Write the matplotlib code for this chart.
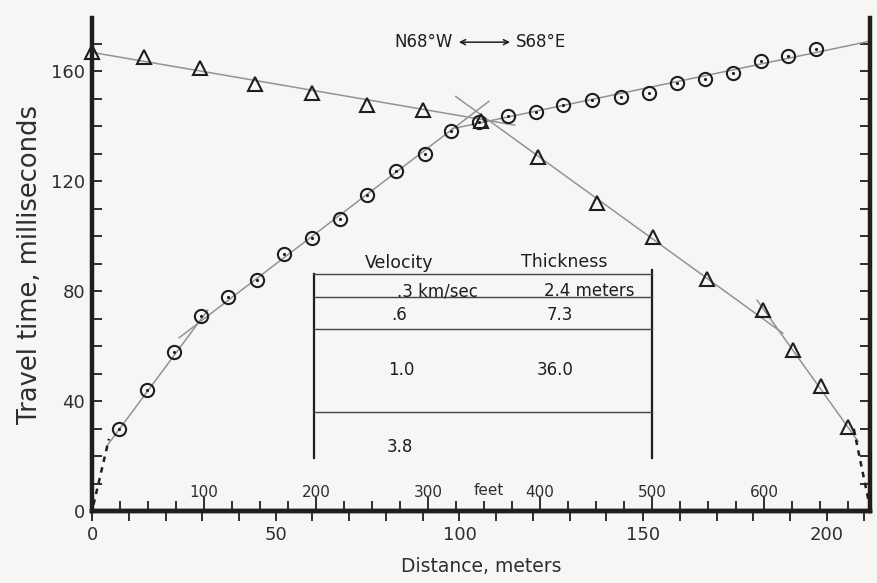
import matplotlib
import matplotlib.pyplot as plt
import numpy as np
from matplotlib.ticker import MultipleLocator, FixedLocator

plt.switch_backend('agg')

#%% ====================================
#   Data
#   ====================================
# forward shot (circles), distance [m] and travel time [ms]
fwd_dist = [7.4, 15.0, 22.3, 29.7, 37.1, 44.9, 52.3, 59.9, 67.6, 74.9, 82.8, 90.5, 97.8,
            105.4, 113.1, 120.7, 128.3, 136.2, 143.9, 151.5, 159.2, 166.8, 174.4, 182.0,
            189.4, 197.0]
fwd_time = [29.7, 44.0, 58.0, 71.1, 77.8, 84.0, 93.5, 99.3, 106.2, 115.0, 123.6, 130.0, 138.2,
            141.4, 143.6, 145.0, 147.5, 149.3, 150.4, 152.1, 155.7, 157.1, 159.3, 163.6,
            165.4, 168.2]

# reverse shot (triangles)
rev_dist = [0.0, 14.2, 29.4, 44.4, 59.9, 74.9, 90.2, 105.8, 121.3, 137.3, 152.6, 167.3,
            182.6, 190.7, 198.4, 205.7]
rev_time = [166.8, 165.0, 161.0, 155.4, 152.1, 147.5, 145.7, 142.0, 128.6, 112.0, 99.6, 84.4,
            73.1, 58.5, 45.6, 30.5]

# fitted segments: x start, x end, reference x, time at reference x, slope [ms/m], dashed
seg_x0    = [0.4,  4.0,  23.7, 98.0,  0.0,   99.0,  181.0, 207.3]
seg_x1    = [4.6,  31.5, 108.0, 211.7, 115.0, 188.0, 208.5, 211.6]
seg_xref  = [0.0,  7.4,  23.7, 105.0, 0.0,   121.9, 182.9, 211.9]
seg_tref  = [0.0,  29.7, 63.0, 141.0, 166.8, 128.6, 73.1,  0.0]
seg_slope = [5.7,  1.80, 1.02, 0.28,  -0.23, -0.967, -1.868, -6.5]
seg_dash  = [True, False, False, False, False, False, False, True]

# layer model table
vel_labels   = ['.3 km/sec', '.6', '1.0', '3.8']
thick_labels = ['2.4 meters', '7.3', '36.0']

feet_major = [100, 200, 300, 400, 500, 600]

FT = 0.3048

#%% ====================================
#   Plotting
#   ====================================
plt.rcParams['font.family'] = ['DejaVu Sans']
ink = '#1e1e1e'
txt = '#2e2e2e'
bg = '#f6f6f4'

fig = plt.figure(figsize=(8.78, 5.83), dpi=100, facecolor=bg)
ax = fig.add_axes([0.1048, 0.1235, 0.886, 0.8456], facecolor=bg)
ax.set_xlim(0, 211.7)
ax.set_ylim(0, 179.3)

# fitted lines
for i in range(len(seg_x0)):
    xx = np.array([seg_x0[i], seg_x1[i]])
    tt = seg_tref[i] + seg_slope[i] * (xx - seg_xref[i])
    if seg_dash[i]:
        ax.plot(xx, tt, color=ink, lw=1.8, ls=(0, (2.2, 2.2)), zorder=3)
    else:
        ax.plot(xx, tt, color='#939393', lw=1.1, zorder=2)

# data points
ax.plot(fwd_dist, fwd_time, 'o', ms=9.5, mfc='none', mec=ink, mew=1.5, zorder=4)
ax.plot(fwd_dist, fwd_time, '.', ms=2.5, color=ink, zorder=4)
ax.plot(rev_dist, rev_time, '^', ms=9.5, mfc='none', mec=ink, mew=1.5, zorder=4, clip_on=False)

# spines and ticks
ax.spines['top'].set_visible(False)
for s in ['left', 'bottom', 'right']:
    ax.spines[s].set_linewidth(3.2)
    ax.spines[s].set_color(ink)

ax.xaxis.set_major_locator(FixedLocator([0, 50, 100, 150, 200]))
ax.xaxis.set_minor_locator(MultipleLocator(10))
ax.yaxis.set_major_locator(FixedLocator([0, 40, 80, 120, 160]))
ax.yaxis.set_minor_locator(MultipleLocator(10))
ax.tick_params(axis='x', which='both', direction='out', length=7, width=1.3, color=ink,
               labelsize=13, labelcolor=txt, pad=4)
ax.tick_params(axis='y', which='both', direction='in', length=7, width=1.3, color=ink,
               labelsize=13, labelcolor=txt, pad=5, right=True)

# feet scale on the bottom axis, ticks pointing up, labels inside
sec = ax.secondary_xaxis(0, functions=(lambda m: m / FT, lambda f: f * FT))
sec.spines['bottom'].set_linewidth(3.2)
sec.spines['bottom'].set_color(ink)
sec.xaxis.set_major_locator(FixedLocator(feet_major))
sec.xaxis.set_minor_locator(MultipleLocator(25))
sec.tick_params(axis='x', which='major', direction='in', length=10, width=1.3, color=ink,
                labelsize=11, labelcolor=txt, pad=-19)
sec.tick_params(axis='x', which='minor', direction='in', length=7, width=1.3, color=ink)
ax.text(108, 7.6, 'feet', ha='center', va='center', fontsize=11, color=txt)

ax.set_xlabel('Distance, meters', fontsize=13.5, color=txt, labelpad=9)
ax.set_ylabel('Travel time, milliseconds', fontsize=18.5, color=txt, labelpad=6)

# direction label
ax.annotate('', xy=(0.541, 0.951), xytext=(0.468, 0.951), xycoords='axes fraction',
            arrowprops=dict(arrowstyle='<->', color=ink, lw=1.1, mutation_scale=9))
ax.text(0.464, 0.951, 'N68°W', transform=ax.transAxes, ha='right', va='center',
        fontsize=12, color=ink)
ax.text(0.545, 0.951, 'S68°E', transform=ax.transAxes, ha='left', va='center',
        fontsize=12, color=ink)

# layer model inset
tab_l, tab_r = 60.5, 152.3
tab_rows = [86.2, 77.8, 66.2, 36.0]
ax.plot([tab_l, tab_l], [tab_rows[0], 19.3], color=ink, lw=1.6)
ax.plot([tab_r, tab_r], [87.6, 19.3], color=ink, lw=1.6)
for r in tab_rows:
    ax.plot([tab_l, tab_r], [r, r], color='#444444', lw=1.0)
ax.text(83.7, 90.2, 'Velocity', ha='center', va='center', fontsize=12.5, color=ink)
ax.text(128.6, 90.5, 'Thickness', ha='center', va='center', fontsize=12.5, color=ink)
vel_y = [80.0, 71.3, 51.3, 23.3]
vel_x = [94.0, 83.7, 84.2, 83.7]
for lab, xx, yy in zip(vel_labels, vel_x, vel_y):
    ax.text(xx, yy, lab, ha='center', va='center', fontsize=12, color=ink)
th_x = [135.4, 127.2, 125.9]
for lab, xx, yy in zip(thick_labels, th_x, vel_y[:3]):
    ax.text(xx, yy, lab, ha='center', va='center', fontsize=12, color=ink)

plt.savefig('out.png', dpi=100, facecolor=bg)
